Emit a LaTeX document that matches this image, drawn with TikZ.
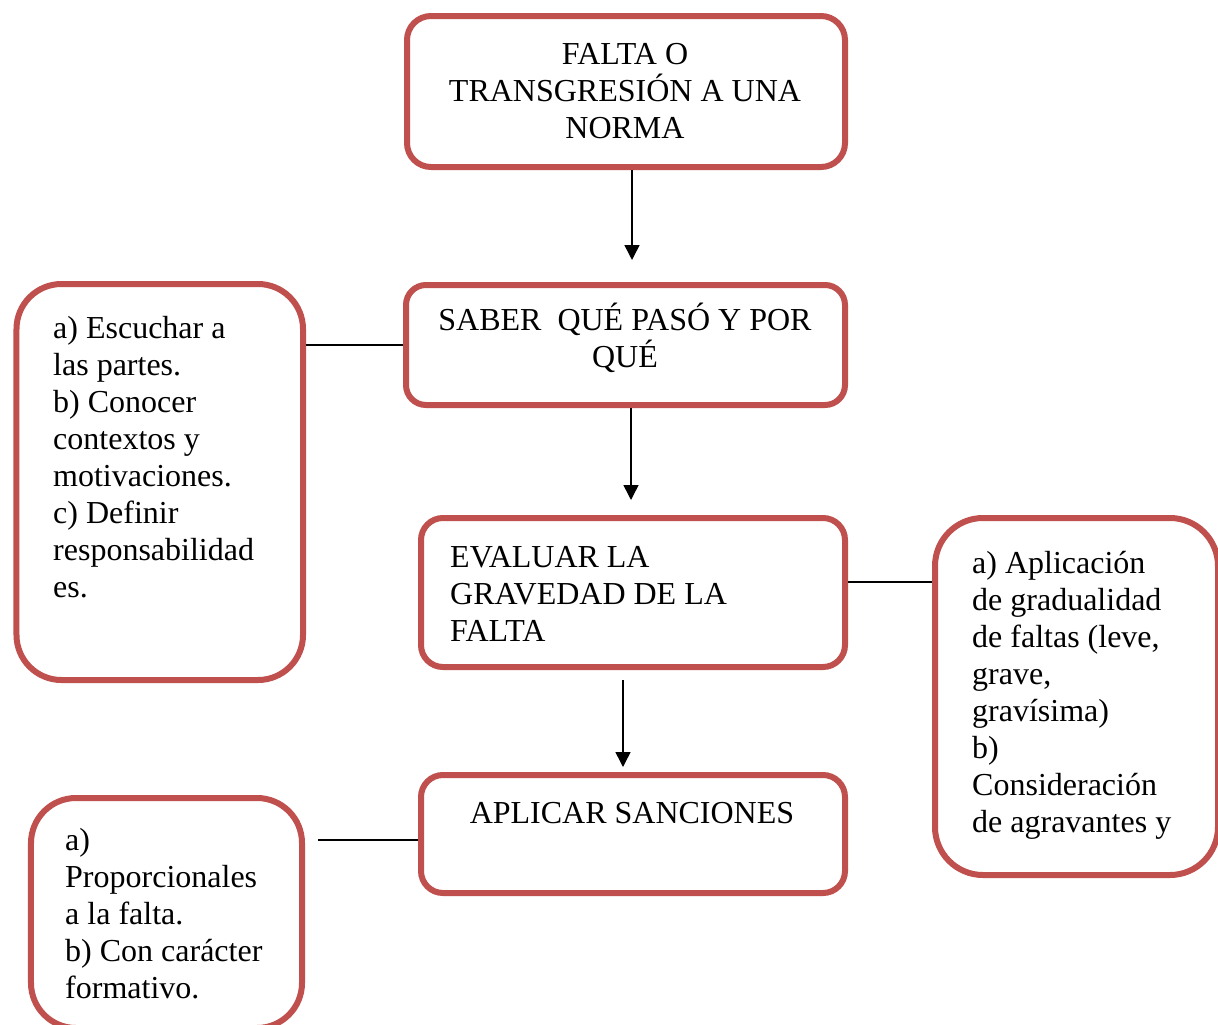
\documentclass[tikz,border=0pt]{standalone}
\usepackage{fontspec}
\setmainfont{Liberation Serif}
\usetikzlibrary{arrows.meta}
\definecolor{boxred}{HTML}{C0504D}
\newcommand\ctxt[2]{\vtop{\hsize=#1\centering #2\par}}
\newcommand\ltxt[2]{\vtop{\hsize=#1\raggedright #2\par}}
\begin{document}
\begin{tikzpicture}[x=1bp,y=-1bp,
  box/.style={draw=boxred, line width=6bp, rounded corners=#1, rectangle, inner sep=0pt},
  tx/.style={inner sep=0pt, font=\fontsize{32bp}{37bp}\selectfont},
  arr/.style={draw=black, line width=1.5bp, -{Triangle[width=15bp,length=15bp]}},
  ln/.style={draw=black, line width=1.5bp}]
\useasboundingbox (0,0) rectangle (1218,1025);
\fill[white] (0,0) rectangle (1218,1025);
% boxes
\node[box=24bp, minimum width=438bp, minimum height=151bp] (b1) at (626,91.5) {};
\node[box=20bp, minimum width=439bp, minimum height=120bp] (b2) at (625.5,345) {};
\node[box=22bp, minimum width=424bp, minimum height=149bp] (b3) at (633,592.5) {};
\node[box=22bp, minimum width=424bp, minimum height=118bp] (b4) at (633,834) {};
\node[box=45bp, minimum width=286.5bp, minimum height=396bp] (lb1) at (159.75,482) {};
\node[box=48bp, minimum width=283bp, minimum height=357bp] (rb) at (1076.5,696.5) {};
\node[box=45bp, minimum width=271bp, minimum height=230bp] (lb2) at (166.5,913) {};
% texts
\node[tx, anchor=base] (t1) at (625,64) {\ctxt{430bp}{FALTA O\\TRANSGRESIÓN A UNA\\NORMA}};
\node[tx, anchor=base] (t2) at (625,330) {\ctxt{430bp}{SABER\ \ QUÉ PASÓ Y POR\\QUÉ}};
\node[tx, anchor=base west] (t3) at (450,567) {\ltxt{380bp}{EVALUAR LA\\GRAVEDAD DE LA\\FALTA}};
\node[tx, anchor=base] (t4) at (632,823) {\ctxt{420bp}{APLICAR SANCIONES}};
\node[tx, anchor=base west] (tl1) at (53,338) {\ltxt{260bp}{a) Escuchar a\\las partes.\\b) Conocer\\contextos y\\motivaciones.\\c) Definir\\responsabilidad\\es.}};
\node[tx, anchor=base west] (tr) at (972,573) {\ltxt{240bp}{a) Aplicación\\de gradualidad\\de faltas (leve,\\grave,\\gravísima)\\b)\\Consideración\\de agravantes y}};
\node[tx, anchor=base west] (tl2) at (65,850) {\ltxt{240bp}{a)\\Proporcionales\\a la falta.\\b) Con carácter\\formativo.}};
% connectors
\coordinate (e1) at (632,260);
\draw[arr] (e1 |- b1.south) -- (e1);
\coordinate (e2) at (631,500);
\draw[arr] (e2 |- b2.south) -- (e2);
\coordinate (s3) at (623,680);
\coordinate (e3) at (623,767);
\draw[arr] (s3) -- (e3);
\draw[ln] (b2.west) -- (b2.west -| lb1.east);
\coordinate (r1) at (0,582);
\draw[ln] (b3.east |- r1) -- (rb.west |- r1);
\coordinate (l2) at (318,840);
\draw[ln] (l2) -- (l2 -| b4.west);
\end{tikzpicture}
\end{document}
